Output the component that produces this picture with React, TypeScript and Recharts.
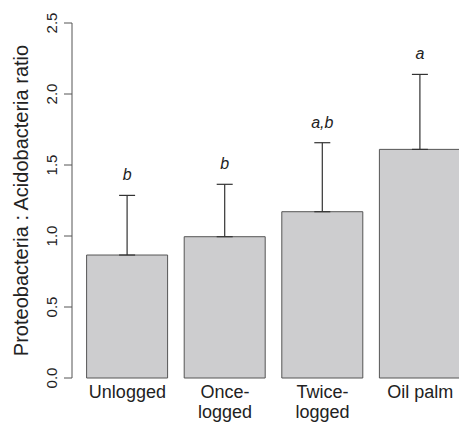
import { BarChart, Bar, XAxis, YAxis, ErrorBar, LabelList } from "recharts";

const categories = ["Unlogged", "Once-logged", "Twice-logged", "Oil palm"];
const tickLines = [["Unlogged"], ["Once-", "logged"], ["Twice-", "logged"], ["Oil palm"]];
const means = [0.866, 0.995, 1.171, 1.61];
const upperErrors = [0.42, 0.369, 0.486, 0.528];
const letters = ["b", "b", "a,b", "a"];
const yTicks = [0, 0.5, 1, 1.5, 2, 2.5];

const data = categories.map((name, i) => ({
  name,
  mean: means[i],
  err: [0, upperErrors[i]],
  letter: letters[i],
}));

const FONT = "'Liberation Sans', Arial, Helvetica, sans-serif";

const YTick = ({ x, y, payload }: any) => (
  <text
    x={x - 5}
    y={y}
    transform={`rotate(-90, ${x - 5}, ${y})`}
    textAnchor="middle"
    fontSize={15}
    fontFamily={FONT}
    fill="#222"
  >
    {payload.value.toFixed(1)}
  </text>
);

const XTick = ({ x, y, index }: any) => (
  <text x={x} y={y} textAnchor="middle" fontSize={18} fontFamily={FONT} fill="#222">
    {tickLines[index].map((line, k) => (
      <tspan key={k} x={x} y={y + 11.5 + k * 20}>
        {line}
      </tspan>
    ))}
  </text>
);

const YTitle = ({ viewBox }: any) => {
  const cy = viewBox.y + viewBox.height / 2;
  return (
    <text
      x={28}
      y={cy}
      transform={`rotate(-90, 28, ${cy})`}
      textAnchor="middle"
      fontSize={20}
      fontFamily={FONT}
      fill="#222"
    >
      Proteobacteria : Acidobacteria ratio
    </text>
  );
};

const LetterLabel = (props: any) => {
  const { x, y, width, height, index } = props;
  const perUnit = height / means[index];
  const capY = y - upperErrors[index] * perUnit;
  return (
    <text
      x={x + width / 2}
      y={capY - 15}
      textAnchor="middle"
      fontSize={16}
      fontStyle="italic"
      fontFamily={FONT}
      fill="#222"
    >
      {letters[index]}
    </text>
  );
};

export default function App() {
  return (
    <div
      style={{
        position: "absolute",
        left: 0,
        top: 0,
        width: 459,
        height: 425,
        overflow: "hidden",
        background: "#fff",
      }}
    >
      <BarChart
        width={469}
        height={425}
        data={data}
        margin={{ top: 23, right: 0, bottom: 0, left: 0 }}
      >
        <XAxis
          dataKey="name"
          axisLine={false}
          tickLine={false}
          height={47}
          padding={{ left: 6.6, right: 0 }}
          tick={<XTick />}
          interval={0}
        />
        <YAxis
          width={72}
          domain={[0, 2.5]}
          ticks={yTicks}
          tickSize={8}
          stroke="#555"
          tick={<YTick />}
          label={<YTitle />}
        />
        <Bar
          dataKey="mean"
          fill="#cdcdcf"
          stroke="#555"
          strokeWidth={1}
          barSize={81}
          isAnimationActive={false}
        >
          <ErrorBar dataKey="err" width={8} stroke="#333" strokeWidth={1.2} direction="y" />
          <LabelList dataKey="letter" content={<LetterLabel />} />
        </Bar>
      </BarChart>
    </div>
  );
}
